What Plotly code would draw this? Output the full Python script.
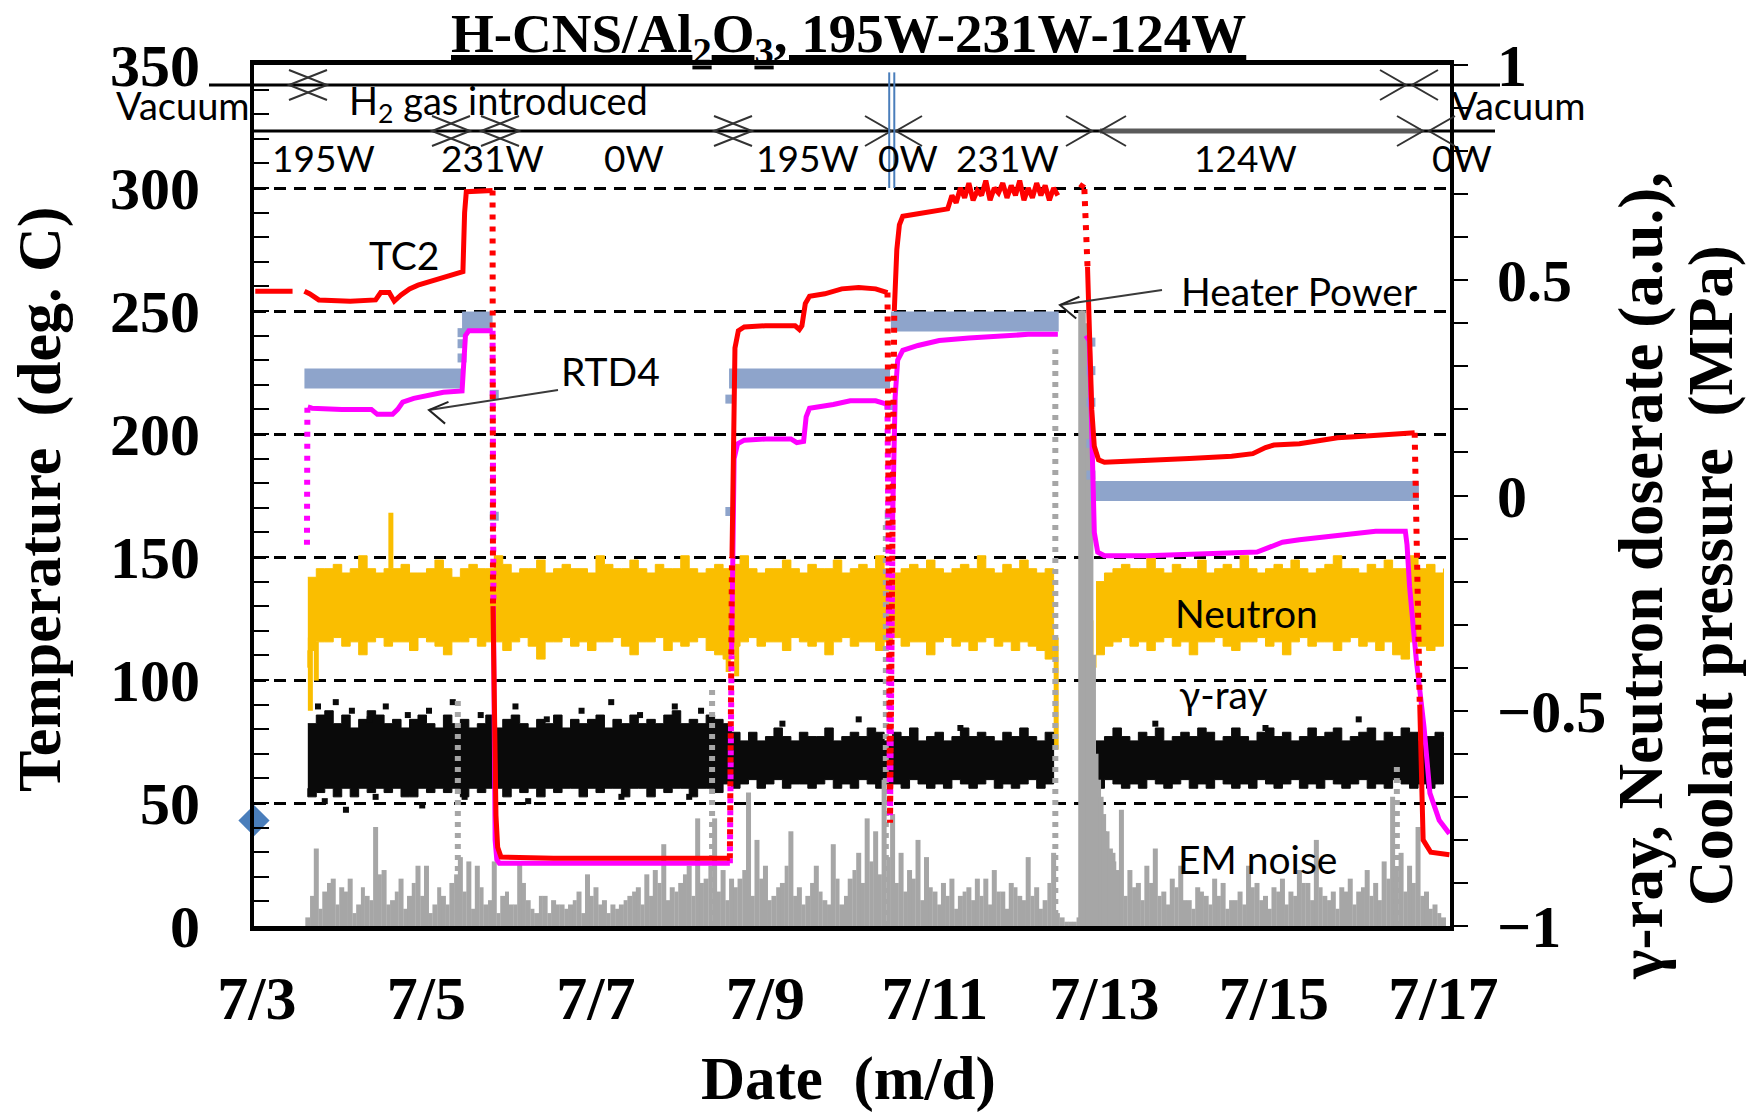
import math
import plotly.graph_objects as go

# ---------------------------------------------------------------- axes
DAY_MIN, DAY_MAX = 2.965, 17.077          # day of July on the date axis
TEMP_RANGE = [0, 350]                     # left axis, deg C
AU_RANGE = [-1, 1]                        # right axis, a.u. / MPa
POWER_RANGE = [-150.9, 393.1]             # heater power scale (W), hidden

date_ticks = [3, 5, 7, 9, 11, 13, 15, 17]
date_labels = ["7/3", "7/5", "7/7", "7/9", "7/11", "7/13", "7/15", "7/17"]

# ---------------------------------------------------------------- TC2 (deg C)
tc2_day = [
    2.98, 3.42, None,
    3.56, 3.62, 3.73, 4.10, 4.40, 4.46, 4.56, 4.62, 4.70, 4.80, 4.90, 5.05, 5.20, 5.38, 5.43, 5.45, 5.47, 5.78, None,
    5.785, 5.80, 5.82, 5.84, 5.88, 6.50, 7.50, 8.58, None,
    8.605, 8.62, 8.64, 8.68, 8.75, 9.00, 9.35, 9.40, 9.43, 9.47, 9.52, 9.70, 9.90, 10.10, 10.30, 10.44, None,
    10.52, 10.55, 10.58, 10.62, 10.80, 11.00, 11.10,
    11.15, 11.20, 11.25, 11.30, 11.35, 11.40, 11.45, 11.50, 11.55, 11.60, 11.65, 11.70, 11.75, 11.80,
    11.85, 11.90, 11.95, 12.00, 12.05, 12.10, 12.15, 12.20, 12.25, 12.30, 12.35, 12.40, 12.45, None,
    12.80, 12.83, 12.85, 12.88, 12.93, 13.00, 13.50, 14.00, 14.50, 14.75, 14.90, 15.00, 15.30, 15.50,
    15.75, 16.00, 16.30, 16.60, 16.66, None,
    16.72, 16.74, 16.76, 16.85, 17.07,
]
tc2_temp = [
    258, 258, None,
    258, 257, 254.5, 254, 254.5, 257.5, 257.5, 254, 256.5, 259, 260.5, 262, 263.5, 265.5, 266, 290, 298.5, 299, None,
    130, 80, 45, 32, 28, 27.5, 27.5, 27.5, None,
    150, 200, 235, 242, 243.5, 244, 244, 242.5, 244, 253, 256, 257, 259, 259.5, 259, 257.5, None,
    250, 275, 285, 288.5, 289.5, 290.5, 291,
    291.5, 297, 294, 300, 296, 302, 295, 299, 297, 303, 295, 300, 298, 302,
    296, 301, 297, 303, 295, 300, 296, 302, 297, 301, 295, 300, 297, None,
    268, 235, 210, 195, 189.5, 188.5, 189, 190, 191, 192, 194.5, 195.5, 196, 197,
    198.5, 199, 199.5, 200.5, 200.5, None,
    90, 56, 35, 30, 29,
]
# fast transients, sparsely logged
tc2_fast_day = [5.78, 5.785, None, 8.58, 8.605, None, 10.44, 10.47, 10.52, None, 12.72, 12.76, 12.80, None, 16.66, 16.72]
tc2_fast_temp = [299, 130, None, 27.5, 150, None, 257.5, 42, 250, None, 300, 302, 268, None, 200.5, 90]

# ---------------------------------------------------------------- RTD4 (deg C)
rtd4_day = [
    3.60, 3.65, 4.00, 4.35, 4.42, 4.60, 4.66, 4.72, 4.85, 5.00, 5.20, 5.42, 5.44, 5.46, 5.50, 5.78, None,
    5.79, 5.80, 5.81, 5.83, 5.86, 7.00, 8.58, None,
    8.60, 8.61, 8.63, 8.67, 8.75, 9.00, 9.30, 9.37, 9.45, 9.48, 9.52, 9.80, 10.00, 10.30, 10.44, None,
    10.50, 10.53, 10.56, 10.62, 10.80, 11.05, 11.40, 11.75, 12.10, 12.45, None,
    12.78, 12.82, 12.84, 12.86, 12.88, 12.92, 13.00, 13.50, 14.00, 14.50, 14.80, 14.95, 15.10, 15.30,
    15.60, 15.90, 16.20, 16.55, 16.57, 16.60, 16.68, 16.77, 16.84, 16.95, 17.07,
]
rtd4_temp = [
    211, 210.5, 210, 210, 208, 208, 210, 213, 214.5, 215.5, 217, 217.5, 228, 240, 242, 242, None,
    130, 60, 35, 27, 25.5, 25.5, 25.5, None,
    110, 160, 190, 196, 197.5, 198, 198, 196.5, 197, 207, 210.5, 212, 213.5, 213.5, 212, None,
    165, 215, 230, 234, 236, 238, 239, 240, 240.5, 240.5, None,
    240, 238, 215, 180, 160, 152, 150.5, 150.5, 151, 151.5, 152, 154, 156, 157,
    158, 159, 160.5, 160.5, 155, 138, 108, 81, 54, 43, 37.5,
]
rtd4_fast_day = [3.59, 3.595, None, 5.78, 5.79, None, 8.58, 8.60, None, 10.44, 10.47, 10.50]
rtd4_fast_temp = [155, 211, None, 242, 130, None, 25.5, 110, None, 212, 45, 165]

# ---------------------------------------------------------------- heater power (W)
power_day = [3.56, 5.42, None, 5.42, 5.78, None, 8.57, 10.47, None, 10.48, 12.46, None, 12.83, 16.71]
power_w = [195, 195, None, 231, 231, None, 195, 195, None, 231, 231, None, 124, 124]
power_step_day = [5.42, 5.42, 5.42, 5.80, 5.80, 8.58, 8.58, 10.46, 10.46, 10.46, 10.50,
                  12.84, 12.84, 12.84, 12.84, 12.84]
power_step_w = [208, 217, 224, 185, 108, 182, 111, 178, 109, 102, 178,
                218, 200, 180, 154, 134]

# ---------------------------------------------------------------- neutron doserate (a.u.), sampled every 0.1 day
neutron_start = [3.6, 12.9]
neutron_up_a = [
    -0.19, -0.17, -0.17, -0.16, -0.18, -0.17, -0.14, -0.17, -0.18, -0.17,
    -0.17, -0.16, -0.18, -0.18, -0.17, -0.15, -0.17, -0.19, -0.17, -0.16,
    -0.17, -0.17, -0.14, -0.16, -0.18, -0.17, -0.17, -0.15, -0.18, -0.17,
    -0.16, -0.17, -0.17, -0.18, -0.14, -0.16, -0.17, -0.17, -0.15, -0.17,
    -0.18, -0.16, -0.17, -0.17, -0.14, -0.17, -0.18, -0.17, -0.16, -0.17,
    -0.16, -0.14, -0.17, -0.18, -0.17, -0.17, -0.15, -0.17, -0.18, -0.16,
    -0.17, -0.17, -0.15, -0.18, -0.17, -0.16, -0.17, -0.14, -0.17, -0.18,
    -0.17, -0.16, -0.17, -0.15, -0.17, -0.18, -0.17, -0.16, -0.17, -0.14,
    -0.17, -0.18, -0.16, -0.17, -0.15, -0.17, -0.18, -0.17, -0.19,
]
neutron_lo_a = [
    -0.40, -0.36, -0.34, -0.34, -0.33, -0.35, -0.34, -0.37, -0.34, -0.33,
    -0.35, -0.34, -0.34, -0.36, -0.33, -0.34, -0.35, -0.37, -0.34, -0.34,
    -0.33, -0.35, -0.34, -0.34, -0.36, -0.34, -0.33, -0.35, -0.38, -0.34,
    -0.34, -0.33, -0.35, -0.34, -0.36, -0.34, -0.34, -0.33, -0.35, -0.37,
    -0.34, -0.34, -0.33, -0.36, -0.34, -0.35, -0.34, -0.33, -0.36, -0.37,
    -0.38, -0.35, -0.34, -0.33, -0.35, -0.34, -0.34, -0.36, -0.33, -0.34,
    -0.35, -0.34, -0.37, -0.34, -0.33, -0.35, -0.34, -0.34, -0.36, -0.34,
    -0.33, -0.35, -0.34, -0.34, -0.37, -0.34, -0.33, -0.35, -0.34, -0.36,
    -0.34, -0.33, -0.35, -0.34, -0.36, -0.34, -0.35, -0.36, -0.38,
]
neutron_up_b = [
    -0.20, -0.18, -0.17, -0.16, -0.17, -0.17, -0.14, -0.17, -0.18, -0.16,
    -0.17, -0.17, -0.15, -0.18, -0.17, -0.16, -0.17, -0.14, -0.17, -0.18,
    -0.17, -0.16, -0.17, -0.15, -0.17, -0.18, -0.17, -0.16, -0.14, -0.17,
    -0.17, -0.18, -0.16, -0.17, -0.15, -0.17, -0.17, -0.14, -0.17, -0.16,
    -0.18, -0.17,
]
neutron_lo_b = [
    -0.40, -0.37, -0.35, -0.34, -0.33, -0.35, -0.34, -0.36, -0.34, -0.33,
    -0.35, -0.34, -0.37, -0.34, -0.34, -0.33, -0.35, -0.36, -0.34, -0.34,
    -0.33, -0.35, -0.34, -0.37, -0.34, -0.33, -0.35, -0.34, -0.34, -0.36,
    -0.34, -0.33, -0.35, -0.34, -0.36, -0.34, -0.37, -0.38, -0.34, -0.35,
    -0.36, -0.35,
]
# short excursions of the neutron signal (day, low, high)
neutron_exc_day = [3.63, 3.70, 4.58, 8.56, 8.66, 12.43, 12.74, 12.78, 12.84]
neutron_exc_lo = [-0.50, -0.43, -0.17, -0.41, -0.42, -0.59, -0.64, -0.60, -0.49]
neutron_exc_hi = [-0.33, -0.34, -0.04, -0.33, -0.33, -0.33, -0.38, -0.34, -0.29]

# ---------------------------------------------------------------- gamma-ray doserate (a.u.), sampled every 0.1 day
gamma_start = [3.6, 12.9]
gamma_up_a = [
    -0.53, -0.51, -0.50, -0.53, -0.51, -0.54, -0.52, -0.50, -0.51, -0.53,
    -0.52, -0.54, -0.52, -0.51, -0.53, -0.54, -0.51, -0.53, -0.52, -0.54,
    -0.53, -0.51, -0.54, -0.52, -0.51, -0.53, -0.54, -0.52, -0.53, -0.51,
    -0.54, -0.52, -0.53, -0.52, -0.51, -0.54, -0.52, -0.53, -0.51, -0.53,
    -0.52, -0.53, -0.51, -0.50, -0.53, -0.52, -0.53, -0.51, -0.52, -0.53,
    -0.55, -0.57, -0.55, -0.57, -0.56, -0.54, -0.56, -0.57, -0.55, -0.56,
    -0.56, -0.54, -0.57, -0.56, -0.55, -0.56, -0.54, -0.55, -0.57, -0.55,
    -0.56, -0.54, -0.57, -0.56, -0.55, -0.57, -0.56, -0.54, -0.56, -0.55,
    -0.56, -0.57, -0.55, -0.56, -0.54, -0.56, -0.57, -0.55, -0.56,
]
gamma_lo_a = [
    -0.68, -0.70, -0.69, -0.68, -0.70, -0.68, -0.70, -0.68, -0.69, -0.68,
    -0.69, -0.68, -0.70, -0.70, -0.68, -0.69, -0.68, -0.69, -0.68, -0.70,
    -0.68, -0.69, -0.68, -0.68, -0.70, -0.68, -0.69, -0.68, -0.70, -0.68,
    -0.69, -0.68, -0.68, -0.70, -0.68, -0.69, -0.68, -0.68, -0.70, -0.68,
    -0.68, -0.70, -0.68, -0.69, -0.68, -0.68, -0.70, -0.68, -0.68, -0.69,
    -0.67, -0.68, -0.67, -0.66, -0.68, -0.67, -0.66, -0.68, -0.67, -0.67,
    -0.68, -0.67, -0.66, -0.68, -0.67, -0.68, -0.66, -0.67, -0.68, -0.67,
    -0.67, -0.68, -0.66, -0.67, -0.68, -0.67, -0.68, -0.66, -0.67, -0.68,
    -0.67, -0.66, -0.68, -0.67, -0.68, -0.67, -0.66, -0.68, -0.67,
]
gamma_up_b = [
    -0.57, -0.56, -0.54, -0.56, -0.57, -0.55, -0.56, -0.54, -0.57, -0.56,
    -0.55, -0.56, -0.54, -0.55, -0.57, -0.56, -0.54, -0.56, -0.57, -0.55,
    -0.54, -0.56, -0.55, -0.57, -0.56, -0.54, -0.56, -0.55, -0.54, -0.57,
    -0.56, -0.55, -0.54, -0.57, -0.55, -0.56, -0.54, -0.55, -0.57, -0.56,
    -0.55, -0.56,
]
gamma_lo_b = [
    -0.67, -0.68, -0.66, -0.67, -0.68, -0.67, -0.68, -0.66, -0.67, -0.68,
    -0.67, -0.66, -0.68, -0.67, -0.68, -0.66, -0.67, -0.68, -0.67, -0.68,
    -0.66, -0.67, -0.68, -0.67, -0.66, -0.68, -0.67, -0.68, -0.66, -0.67,
    -0.68, -0.67, -0.66, -0.68, -0.67, -0.68, -0.66, -0.67, -0.68, -0.67,
    -0.68, -0.67,
]
gamma_dot_day = [3.72, 3.85, 3.93, 4.12, 4.33, 4.52, 4.78, 5.03, 5.31, 5.64, 6.05, 6.42, 6.83, 7.18,
                 7.52, 7.93, 8.24, 3.80, 4.05, 4.40, 4.95, 5.45, 6.20, 7.30, 8.10, 9.20, 10.10,
                 11.30, 13.60, 14.90, 16.00]
gamma_dot_val = [-0.49, -0.51, -0.48, -0.50, -0.52, -0.49, -0.51, -0.50, -0.48, -0.51, -0.49, -0.52,
                 -0.50, -0.48, -0.51, -0.49, -0.50, -0.71, -0.73, -0.70, -0.72, -0.70, -0.71, -0.70,
                 -0.70, -0.53, -0.52, -0.54, -0.53, -0.54, -0.52]

# ---------------------------------------------------------------- EM noise (a.u.), two interleaved 0.1-day sample sets
em_start = 3.6
em_level = [
    -0.98, -0.82, -0.92, -0.89, -0.91, -0.89, -0.95, -0.93, -0.77, -0.87,
    -0.94, -0.89, -0.93, -0.86, -0.86, -0.95, -0.93, -0.90, -0.84, -0.85,
    -0.86, -0.95, -0.85, -0.93, -0.95, -0.85, -0.94, -0.97, -0.93, -0.94,
    -0.95, -0.95, -0.92, -0.88, -0.91, -0.94, -0.95, -0.95, -0.93, -0.91,
    -0.88, -0.87, -0.81, -0.91, -0.90, -0.86, -0.75, -0.89, -0.75, -0.87,
    -0.89, -0.89, -0.69, -0.80, -0.86, -0.93, -0.90, -0.78, -0.91, -0.93,
    -0.86, -0.94, -0.81, -0.95, -0.89, -0.83, -0.75, -0.78, -0.66, -0.74,
    -0.83, -0.87, -0.80, -0.84, -0.92, -0.90, -0.89, -0.93, -0.91, -0.89,
    -0.89, -0.87, -0.92, -0.90, -0.93, -0.84, -0.91, -0.94, -0.83, -0.98,
    -0.99, -0.98, -0.98, -0.66, -0.78, -0.83, -0.73, -0.87, -0.90, -0.86,
    -0.82, -0.92, -0.89, -0.86, -0.94, -0.91, -0.93, -0.89, -0.90, -0.94,
    -0.92, -0.86, -0.90, -0.93, -0.91, -0.89, -0.92, -0.87, -0.90, -0.80,
    -0.93, -0.92, -0.91, -0.89, -0.92, -0.87, -0.90, -0.85, -0.70, -0.83,
    -0.86, -0.77, -0.92, -0.95, -0.98,
]
em_start_mid = 3.65
em_level_mid = [
    -0.93, -0.96, -0.90, -0.95, -0.92, -0.97, -0.91, -0.94, -0.88, -0.95,
    -0.92, -0.96, -0.90, -0.93, -0.97, -0.91, -0.95, -0.88, -0.92, -0.96,
    -0.91, -0.94, -0.97, -0.92, -0.95, -0.90, -0.96, -0.93, -0.97, -0.95,
    -0.96, -0.94, -0.97, -0.93, -0.95, -0.97, -0.96, -0.94, -0.92, -0.95,
    -0.93, -0.90, -0.94, -0.92, -0.88, -0.93, -0.90, -0.86, -0.92, -0.94,
    -0.91, -0.87, -0.93, -0.89, -0.94, -0.91, -0.86, -0.93, -0.95, -0.90,
    -0.92, -0.95, -0.89, -0.93, -0.87, -0.90, -0.85, -0.88, -0.84, -0.90,
    -0.92, -0.89, -0.94, -0.91, -0.95, -0.93, -0.96, -0.92, -0.94, -0.93,
    -0.95, -0.92, -0.96, -0.91, -0.94, -0.93, -0.96, -0.90, -0.97, -0.99,
    -0.99, -0.98, -0.92, -0.85, -0.88, -0.90, -0.93, -0.91, -0.94, -0.90,
    -0.93, -0.95, -0.91, -0.94, -0.96, -0.92, -0.95, -0.93, -0.96, -0.94,
    -0.95, -0.91, -0.94, -0.96, -0.92, -0.95, -0.93, -0.90, -0.94, -0.91,
    -0.94, -0.96, -0.92, -0.95, -0.91, -0.93, -0.94, -0.89, -0.87, -0.92,
    -0.90, -0.93, -0.96, -0.97,
]
em_burst_day = [5.37, 8.37, 10.42, 12.42, 16.45]
em_burst_top = [-0.47, -0.44, -0.06, 0.34, -0.62]
em_decay_day = [12.72, 12.75, 12.78, 12.81, 12.84, 12.87, 12.90, 12.93, 12.96, 12.99, 13.03, 13.07, 13.11, 13.15]
em_decay_top = [0.43, 0.43, 0.40, 0.37, 0.14, -0.37, -0.60, -0.66, -0.70, -0.74, -0.78, -0.82, -0.85, -0.87]

# coolant pressure reading before the run (MPa)
pressure_day = [2.965]
pressure_mpa = [-0.755]

# ---------------------------------------------------------------- colours
C_TC2, C_RTD4, C_POWER = "#FF0000", "#FF00FF", "#8EA4CB"
C_NEUTRON, C_GAMMA, C_EM, C_MARK = "#FABE00", "#0A0A0A", "#A6A6A6", "#4A7EBB"

# ---------------------------------------------------------------- page geometry
FIG_W, FIG_H = 1754, 1114
M_L, M_R, M_T, M_B = 254, 304, 65, 188
PLOT_W, PLOT_H = FIG_W - M_L - M_R, FIG_H - M_T - M_B


def px_x(p):
    return (p - M_L) / PLOT_W


def px_y(p):
    return 1 - (p - M_T) / PLOT_H


def day_grid(start, n):
    return [round(start + 0.1 * i, 2) for i in range(n)]


def band_xy(starts, uppers, lowers):
    xs, ys = [], []
    for s, up, lo in zip(starts, uppers, lowers):
        d = day_grid(s, len(up))
        xs += d + d[::-1] + [None]
        ys += up + lo[::-1] + [None]
    return xs, ys


def sticks(days, lows, highs):
    xs, ys = [], []
    for d, lo, hi in zip(days, lows, highs):
        xs += [d, d, None]
        ys += [lo, hi, None]
    return xs, ys


fig = go.Figure()

# ---- a.u. quantities (main, right-hand axis "y")
nx, ny = band_xy(neutron_start, [neutron_up_a, neutron_up_b], [neutron_lo_a, neutron_lo_b])
fig.add_trace(go.Scatter(x=nx, y=ny, fill="toself", fillcolor=C_NEUTRON, mode="lines",
                         line=dict(color=C_NEUTRON, width=1, shape="hv"), yaxis="y", hoverinfo="skip"))
ex, ey = sticks(neutron_exc_day, neutron_exc_lo, neutron_exc_hi)
fig.add_trace(go.Scatter(x=ex, y=ey, mode="lines", line=dict(color=C_NEUTRON, width=5), yaxis="y"))

gx, gy = band_xy(gamma_start, [gamma_up_a, gamma_up_b], [gamma_lo_a, gamma_lo_b])
fig.add_trace(go.Scatter(x=gx, y=gy, fill="toself", fillcolor=C_GAMMA, mode="lines",
                         line=dict(color=C_GAMMA, width=1, shape="hv"), yaxis="y"))
fig.add_trace(go.Scatter(x=gamma_dot_day, y=gamma_dot_val, mode="markers",
                         marker=dict(symbol="square", size=6, color=C_GAMMA), yaxis="y"))

for start, levels, w in [(em_start, em_level, 5), (em_start_mid, em_level_mid, 4)]:
    days = day_grid(start, len(levels))
    mx, my = sticks(days, [AU_RANGE[0]] * len(days), levels)
    fig.add_trace(go.Scatter(x=mx, y=my, mode="lines", line=dict(color=C_EM, width=w), yaxis="y"))
bx, by = sticks(em_burst_day, [AU_RANGE[0]] * len(em_burst_day), em_burst_top)
fig.add_trace(go.Scatter(x=bx, y=by, mode="lines", line=dict(color=C_EM, width=6, dash="5px,6px"), yaxis="y"))
dx, dy = sticks(em_decay_day, [AU_RANGE[0]] * len(em_decay_day), em_decay_top)
fig.add_trace(go.Scatter(x=dx, y=dy, mode="lines", line=dict(color=C_EM, width=5), yaxis="y"))

fig.add_trace(go.Scatter(x=pressure_day, y=pressure_mpa, mode="markers", cliponaxis=False,
                         marker=dict(symbol="diamond", size=24, color=C_MARK), yaxis="y"))

# ---- heater power (hidden W axis "y2")
fig.add_trace(go.Scatter(x=power_day, y=power_w, mode="lines", line=dict(color=C_POWER, width=20),
                         yaxis="y2"))
fig.add_trace(go.Scatter(x=power_step_day, y=power_step_w, mode="markers",
                         marker=dict(symbol="square", size=9, color=C_POWER), yaxis="y2"))

# ---- temperatures (left axis "y3")
fig.add_trace(go.Scatter(x=rtd4_fast_day, y=rtd4_fast_temp, mode="lines",
                         line=dict(color=C_RTD4, width=6, dash="5px,7px"), yaxis="y3"))
fig.add_trace(go.Scatter(x=rtd4_day, y=rtd4_temp, mode="lines", line=dict(color=C_RTD4, width=5),
                         yaxis="y3"))
fig.add_trace(go.Scatter(x=tc2_fast_day, y=tc2_fast_temp, mode="lines",
                         line=dict(color=C_TC2, width=6, dash="5px,7px"), yaxis="y3"))
fig.add_trace(go.Scatter(x=tc2_day, y=tc2_temp, mode="lines", line=dict(color=C_TC2, width=5),
                         yaxis="y3"))

# ---------------------------------------------------------------- phase timeline above the curves
shapes = []
ROW1_Y, ROW2_Y = 85, 131


def hline(x0, x1, y, color="black", width=3):
    return dict(type="line", xref="paper", yref="paper", x0=px_x(x0), x1=px_x(x1),
                y0=px_y(y), y1=px_y(y), line=dict(color=color, width=width))


def chevron(tip_x, tip_y, angle_deg, depth=24, half=15, color="#333333", width=2):
    # open arrow head whose tip sits at (tip_x, tip_y); angle is the pointing direction
    a = math.radians(angle_deg)
    ux, uy = math.cos(a), math.sin(a)
    pts = []
    for s in (1, -1):
        bx_ = -depth * ux - s * half * uy
        by_ = -depth * uy + s * half * ux
        pts.append((bx_, -by_))
    path = f"M {pts[0][0]:.2f},{pts[0][1]:.2f} L 0,0 L {pts[1][0]:.2f},{pts[1][1]:.2f}"
    return dict(type="path", xref="paper", yref="paper", xsizemode="pixel", ysizemode="pixel",
                xanchor=px_x(tip_x), yanchor=px_y(tip_y), path=path,
                line=dict(color=color, width=width))


shapes.append(hline(209, 1500, ROW1_Y))
shapes.append(hline(254, 1495, ROW2_Y))
shapes.append(hline(1100, 1421, ROW2_Y, color="#5A5A5A", width=5))

# crossed heads (X) and facing heads (><)
for c, y in [(308, ROW1_Y), (451, ROW2_Y), (500, ROW2_Y), (733, ROW2_Y)]:
    shapes.append(chevron(c + 19, y, 0, depth=38))
    shapes.append(chevron(c - 19, y, 180, depth=38))
for t1, t2, y in [(1406, 1412, ROW1_Y), (891, 896, ROW2_Y), (1092, 1100, ROW2_Y), (1423, 1429, ROW2_Y)]:
    shapes.append(chevron(t1, y, 0, depth=26))
    shapes.append(chevron(t2, y, 180, depth=26))

# pointer arrows for RTD4 and heater power
for (tx, ty), (hx, hy) in [((558, 390), (429, 410)), ((1162, 290), (1060, 305))]:
    shapes.append(dict(type="line", xref="paper", yref="paper", x0=px_x(tx), y0=px_y(ty),
                       x1=px_x(hx), y1=px_y(hy), line=dict(color="#3A3A3A", width=2)))
    ang = math.degrees(math.atan2(-(hy - ty), hx - tx))
    shapes.append(chevron(hx, hy, ang, depth=18, half=11, color="#222222"))

# double marker line at the 7/10 power interruption
for d in [10.46, 10.52]:
    shapes.append(dict(type="line", xref="x", yref="y3", x0=d, x1=d, y0=300, y1=347,
                       line=dict(color=C_MARK, width=2)))

# ---------------------------------------------------------------- text
SERIF = "Liberation Serif"
SANS = "Lato"
ann = []


def ptext(text, x, y, size=38, **kw):
    ann.append(dict(text=text, xref="paper", yref="paper", x=px_x(x), y=px_y(y), showarrow=False,
                    xanchor="center", yanchor="middle",
                    font=dict(family=SANS, size=size, color="black"), **kw))


def dtext(text, day, temp, size=39):
    ann.append(dict(text=text, xref="x", yref="y3", x=day, y=temp, showarrow=False,
                    xanchor="center", yanchor="middle",
                    font=dict(family=SANS, size=size, color="black")))


ptext("Vacuum", 183, 105)
ptext("H<sub>2</sub> gas introduced", 498, 103)
ptext("Vacuum", 1519, 105)
for lab, xc in [("195W", 323), ("231W", 492), ("0W", 634), ("195W", 807), ("0W", 908),
                ("231W", 1007), ("124W", 1245), ("0W", 1462)]:
    ptext(lab, xc, 157, size=37)

dtext("TC2", 4.73, 272.8)
dtext("RTD4", 7.17, 225.6)
dtext("Heater Power", 15.29, 258)
dtext("Neutron", 14.67, 127.2)
dtext("γ-ray", 14.41, 94.3)
dtext("EM noise", 14.80, 27.2)


def serif_text(text, x, y, size, angle=0):
    ann.append(dict(text=text, xref="paper", yref="paper", x=px_x(x), y=px_y(y), showarrow=False,
                    textangle=angle, xanchor="center", yanchor="middle",
                    font=dict(family=SERIF, size=size, color="black", weight="bold")))


ann.append(dict(text="H-CNS/Al<sub>2</sub>O<sub>3</sub>, 195W-231W-124W", xref="paper", yref="paper",
                x=px_x(848), y=px_y(37), showarrow=False, xanchor="center", yanchor="middle",
                font=dict(family=SERIF, size=55, color="black", weight="bold", lineposition="under")))
serif_text("Temperature  (deg. C)", 40, 500, 62, angle=-90)
serif_text("γ-ray, Neutron doserate (a.u.),", 1641, 576, 63, angle=-90)
serif_text("Coolant pressure  (MPa)", 1711, 576, 63, angle=-90)
serif_text("Date  (m/d)", 848, 1079, 61)

tick_font = dict(family=SERIF, size=60, color="black", weight="bold")

fig.update_layout(
    width=FIG_W, height=FIG_H,
    margin=dict(l=M_L, r=M_R, t=M_T, b=M_B, pad=0),
    paper_bgcolor="white", plot_bgcolor="white",
    showlegend=False,
    shapes=shapes,
    annotations=ann,
    xaxis=dict(range=[DAY_MIN, DAY_MAX], tickmode="array", tickvals=date_ticks, ticktext=date_labels,
               showgrid=False, zeroline=False, showline=True, linecolor="black", linewidth=5,
               mirror=True, ticks="", tickfont=dict(family=SERIF, size=62, color="black", weight="bold"),
               ticklabelstandoff=14),
    yaxis=dict(range=AU_RANGE, side="right", tickmode="linear", tick0=-1, dtick=0.5,
               showgrid=False, zeroline=False, showline=True, linecolor="black", linewidth=4,
               ticks="outside", ticklen=14, tickwidth=2, tickcolor="black",
               minor=dict(dtick=0.1, tick0=-1, ticks="outside", ticklen=14, tickwidth=2,
                          tickcolor="black", showgrid=False),
               tickfont=tick_font, ticklabelstandoff=17),
    yaxis2=dict(range=POWER_RANGE, overlaying="y", visible=False),
    yaxis3=dict(range=TEMP_RANGE, overlaying="y", side="left", tickmode="linear", tick0=0, dtick=50,
                showgrid=True, gridcolor="black", gridwidth=2.5, griddash="12px,8px", zeroline=False,
                showline=True, linecolor="black", linewidth=4,
                ticks="inside", ticklen=15, tickwidth=2, tickcolor="black",
                minor=dict(dtick=10, tick0=0, ticks="inside", ticklen=15, tickwidth=2,
                           tickcolor="black", showgrid=False),
                tickfont=tick_font, ticklabelstandoff=38),
)

fig.write_html("out.html")
